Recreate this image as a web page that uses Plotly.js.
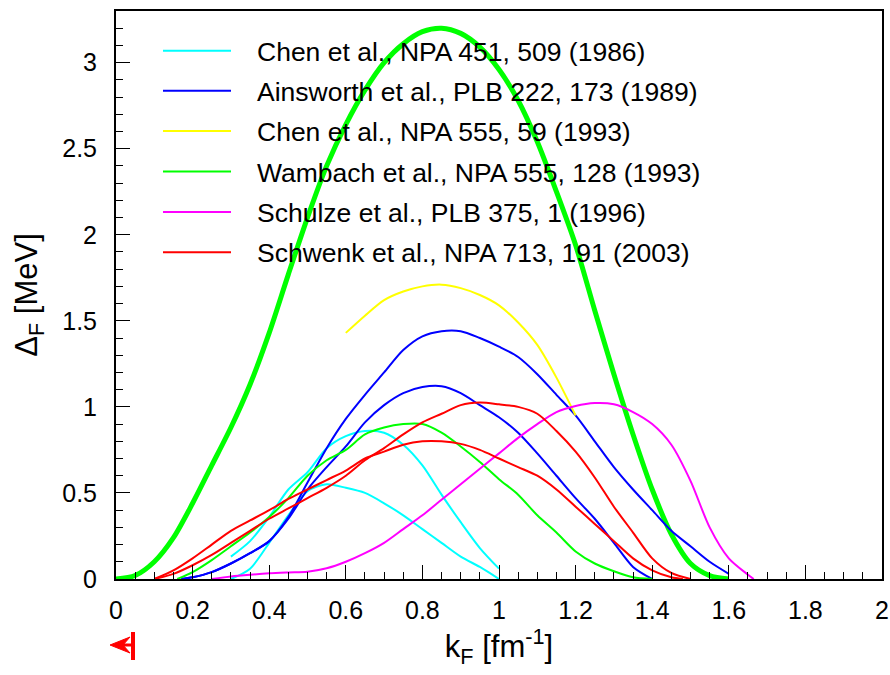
<!DOCTYPE html>
<html>
<head>
<meta charset="utf-8">
<script src="https://cdn.plot.ly/plotly-3.0.1.min.js"></script>
<style>html,body{margin:0;padding:0;background:#fff;}#chart{width:890px;height:675px;}</style>
</head>
<body>
<div id="chart"></div>
<script>
// ---------------- data ----------------
const legendLabels = [
  "Chen et al., NPA 451, 509 (1986)",
  "Ainsworth et al., PLB 222, 173 (1989)",
  "Chen et al., NPA 555, 59 (1993)",
  "Wambach et al., NPA 555, 128 (1993)",
  "Schulze et al., PLB 375, 1 (1996)",
  "Schwenk et al., NPA 713, 191 (2003)"
];
const seriesColors = ["#00ffff", "#0000ff", "#ffff00", "#00ff00", "#ff00ff", "#ff0000"];

// thick green curve
const bigX = [0,0.05,0.1,0.15,0.2,0.25,0.3,0.35,0.4,0.45,0.5,0.55,0.6,0.65,0.7,0.75,0.8,0.85,0.9,0.95,1.0,1.05,1.1,1.15,1.2,1.25,1.3,1.35,1.4,1.45,1.5,1.55,1.6];
const bigY = [0,0.02,0.1,0.24,0.44,0.66,0.88,1.13,1.43,1.77,2.10,2.40,2.64,2.84,3.00,3.11,3.18,3.20,3.17,3.09,2.96,2.78,2.54,2.25,1.94,1.56,1.19,0.84,0.52,0.26,0.09,0.02,0.0];

// Chen et al. 1986 (cyan), two curves
const cyanAX = [0.3,0.35,0.4,0.45,0.5,0.55,0.6,0.65,0.7,0.75,0.8,0.85,0.9,0.95,1.0];
const cyanAY = [0.13,0.22,0.36,0.52,0.62,0.76,0.83,0.86,0.85,0.78,0.66,0.49,0.33,0.18,0.06];
const cyanBX = [0.3,0.35,0.4,0.45,0.5,0.55,0.6,0.65,0.7,0.75,0.8,0.85,0.9,0.95,1.0];
const cyanBY = [0.0,0.06,0.21,0.37,0.51,0.55,0.53,0.50,0.44,0.37,0.29,0.21,0.13,0.07,0.0];

// Ainsworth et al. 1989 (blue), two curves
const blueAX = [0.17,0.2,0.25,0.3,0.35,0.4,0.45,0.5,0.55,0.6,0.65,0.7,0.75,0.8,0.85,0.9,0.95,1.0,1.05,1.1,1.15,1.2,1.25,1.3,1.35,1.4,1.45,1.5,1.55,1.6];
const blueAY = [0,0.01,0.04,0.09,0.15,0.22,0.36,0.56,0.76,0.93,1.07,1.20,1.33,1.41,1.44,1.44,1.40,1.35,1.29,1.19,1.07,0.95,0.80,0.65,0.52,0.40,0.28,0.19,0.10,0.03];
const blueBX = [0.17,0.2,0.25,0.3,0.35,0.4,0.45,0.5,0.55,0.6,0.65,0.7,0.75,0.8,0.85,0.9,0.95,1.0,1.05,1.1,1.15,1.2,1.25,1.3,1.35,1.4];
const blueBY = [0,0.01,0.04,0.09,0.15,0.22,0.35,0.52,0.65,0.77,0.91,1.01,1.08,1.115,1.12,1.08,1.01,0.94,0.85,0.73,0.60,0.47,0.35,0.21,0.07,0.0];

// Chen et al. 1993 (yellow)
const yellowX = [0.6,0.65,0.7,0.75,0.8,0.85,0.9,0.95,1.0,1.05,1.1,1.15,1.2];
const yellowY = [1.43,1.53,1.62,1.67,1.70,1.71,1.69,1.65,1.59,1.49,1.36,1.17,0.95];

// Wambach et al. 1993 (green)
const greenX = [0.16,0.2,0.25,0.3,0.35,0.4,0.45,0.5,0.55,0.6,0.65,0.7,0.75,0.8,0.85,0.9,0.95,1.0,1.05,1.1,1.15,1.2,1.25,1.3,1.35,1.4];
const greenY = [0,0.04,0.11,0.19,0.27,0.36,0.47,0.60,0.69,0.75,0.84,0.88,0.90,0.90,0.85,0.77,0.68,0.58,0.49,0.37,0.27,0.16,0.09,0.045,0.01,0];

// Schulze et al. 1996 (magenta)
const magX = [0.25,0.3,0.35,0.4,0.45,0.5,0.55,0.6,0.65,0.7,0.75,0.8,0.85,0.9,0.95,1.0,1.05,1.1,1.15,1.2,1.25,1.3,1.35,1.4,1.45,1.5,1.55,1.6,1.65,1.665];
const magY = [0,0.015,0.025,0.033,0.038,0.042,0.062,0.10,0.15,0.21,0.29,0.37,0.46,0.55,0.64,0.73,0.82,0.90,0.97,1.005,1.022,1.015,0.97,0.90,0.78,0.57,0.30,0.12,0.025,0];

// Schwenk et al. 2003 (red), two curves
const redAX = [0.1,0.15,0.2,0.25,0.3,0.35,0.4,0.45,0.5,0.55,0.6,0.65,0.7,0.75,0.8,0.85,0.9,0.95,1.0,1.05,1.1,1.15,1.2,1.25,1.3,1.35,1.4,1.45,1.5];
const redAY = [0,0.03,0.08,0.14,0.21,0.28,0.35,0.41,0.47,0.53,0.60,0.69,0.76,0.84,0.91,0.96,1.01,1.025,1.015,1.0,0.96,0.86,0.74,0.59,0.42,0.27,0.12,0.035,0];
const redBX = [0.1,0.15,0.2,0.25,0.3,0.35,0.4,0.45,0.5,0.55,0.6,0.65,0.7,0.75,0.8,0.85,0.9,0.95,1.0,1.05,1.1,1.15,1.2,1.25,1.3,1.35,1.4,1.45,1.48];
const redBY = [0,0.05,0.12,0.20,0.28,0.34,0.40,0.465,0.52,0.575,0.63,0.70,0.74,0.78,0.80,0.80,0.785,0.75,0.70,0.65,0.60,0.52,0.42,0.32,0.22,0.12,0.05,0.01,0];

const xTitle = "k<sub>F</sub> [fm<sup>-1</sup>]";
const yTitle = "Δ<sub>F</sub> [MeV]";

// ---------------- plot ----------------
const FONT = "Liberation Sans, Arial, Helvetica, sans-serif";
const L = 116, R = 882, T = 11, B = 579, W = 890, H = 675;
const px = v => (v - L) / (R - L);
const py = v => (B - v) / (B - T);

function curve(x, y, color, width, group) {
  return {x: x, y: y, type: "scatter", mode: "lines", legendgroup: group, showlegend: false,
          line: {color: color, width: width, shape: "spline", smoothing: 0.8}, hoverinfo: "skip"};
}

const traces = [
  curve(bigX, bigY, "#00ff00", 5, "big"),
  curve(cyanAX, cyanAY, seriesColors[0], 2, "g0"),
  curve(cyanBX, cyanBY, seriesColors[0], 2, "g0"),
  curve(blueAX, blueAY, seriesColors[1], 2, "g1"),
  curve(blueBX, blueBY, seriesColors[1], 2, "g1"),
  curve(yellowX, yellowY, seriesColors[2], 2, "g2"),
  curve(greenX, greenY, seriesColors[3], 2, "g3"),
  curve(magX, magY, seriesColors[4], 2, "g4"),
  curve(redAX, redAY, seriesColors[5], 2, "g5"),
  curve(redBX, redBY, seriesColors[5], 2, "g5")
];

const legendRows = [50.7, 90.7, 131, 171.5, 212, 252.3];
const shapes = [];
const annotations = [];
legendLabels.forEach((lab, i) => {
  shapes.push({type: "line", xref: "paper", yref: "paper", x0: px(163), x1: px(231),
               y0: py(legendRows[i]), y1: py(legendRows[i]), line: {color: seriesColors[i], width: 2}});
  annotations.push({xref: "paper", yref: "paper", x: px(255), y: py(legendRows[i] + 1),
                    xanchor: "left", yanchor: "middle", showarrow: false, text: lab,
                    font: {family: FONT, size: 26.5, color: "#000"}});
});
// red marker below the x axis: bar + arrow pointing left
shapes.push({type: "line", xref: "paper", yref: "paper", x0: px(133), x1: px(133),
             y0: py(632), y1: py(660), line: {color: "#ff0000", width: 4}});
shapes.push({type: "line", xref: "paper", yref: "paper", x0: px(120), x1: px(133),
             y0: py(645), y1: py(645), line: {color: "#ff0000", width: 3}});
const arrowPts = [[110, 645], [130, 637], [123, 645], [130, 653]];
shapes.push({type: "path", xref: "paper", yref: "paper",
             path: "M" + arrowPts.map(p => px(p[0]) + "," + py(p[1])).join(" L") + " Z",
             fillcolor: "#ff0000", line: {color: "#ff0000", width: 1}});

const axisCommon = {
  showline: true, linewidth: 2, linecolor: "#000", mirror: true,
  showgrid: false, zeroline: false, ticks: "inside", ticklen: 14, tickwidth: 1, tickcolor: "#000",
  tickfont: {family: FONT, size: 25, color: "#000"}
};

const layout = {
  width: W, height: H,
  margin: {l: L, r: W - R, t: T, b: H - B},
  paper_bgcolor: "#fff", plot_bgcolor: "#fff",
  showlegend: false,
  xaxis: Object.assign({}, axisCommon, {
    range: [0, 2], tick0: 0, dtick: 0.2, ticklabelstandoff: 8,
    minor: {dtick: 0.05, ticks: "inside", ticklen: 7, tickwidth: 1, tickcolor: "#000"},
    title: {text: xTitle, font: {family: FONT, size: 31, color: "#000"}, standoff: 11}
  }),
  yaxis: Object.assign({}, axisCommon, {
    range: [0, 3.3], tick0: 0, dtick: 0.5, ticklabelstandoff: 12,
    minor: {dtick: 0.1, ticks: "inside", ticklen: 7, tickwidth: 1, tickcolor: "#000"},
    title: {text: yTitle, font: {family: FONT, size: 31, color: "#000"}, standoff: 15}
  }),
  shapes: shapes,
  annotations: annotations
};

Plotly.newPlot("chart", traces, layout, {displayModeBar: false, staticPlot: true});
</script>
</body>
</html>
